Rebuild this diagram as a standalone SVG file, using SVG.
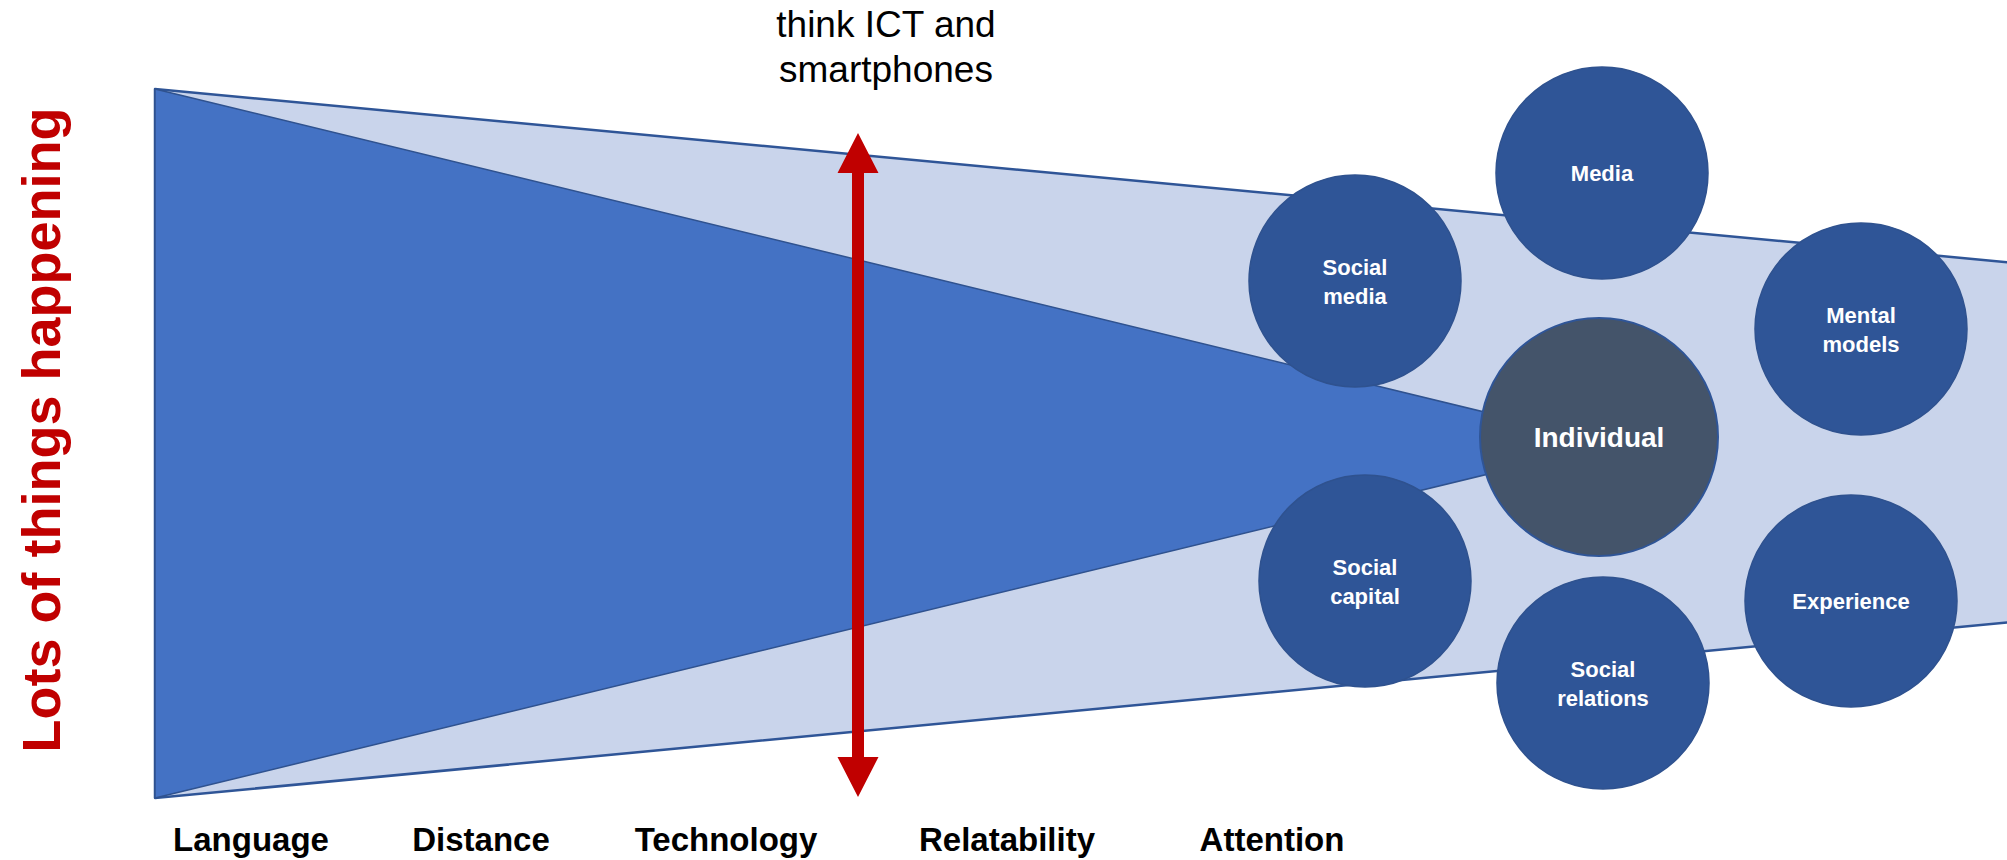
<svg xmlns="http://www.w3.org/2000/svg" width="2007" height="860" viewBox="0 0 2007 860">
  <style>
    .node { fill: #2F5597; stroke: #2F528F; stroke-width: 1.5; }
    .center { fill: #44546A; stroke: #2F5597; stroke-width: 2; }
    .ntext { font-family: "Liberation Sans", Arial, sans-serif; font-weight: bold; font-size: 22px; fill: #FFFFFF; text-anchor: middle; }
    .axis { font-family: "Liberation Sans", Arial, sans-serif; font-weight: bold; font-size: 33px; fill: #000000; text-anchor: middle; }
  </style>
  <rect x="0" y="0" width="2007" height="860" fill="#FFFFFF"/>
  <g id="funnel">
    <polygon points="155,89 2030,264.3 2030,620.4 155,798" fill="#C9D4EB" stroke="#2F5597" stroke-width="2.5" stroke-linejoin="round"/>
    <polygon points="155,89 1614,443.5 155,798" fill="#4472C4" stroke="#2F528F" stroke-width="1.5" stroke-linejoin="round"/>
  </g>
  <g id="connectors">
    <polygon points="858,133 878.5,173 864,173 864,757 878.5,757 858,797 837.5,757 852,757 852,173 837.5,173" fill="#C00000"/>
  </g>
  <text x="886" y="37" font-family="'Liberation Sans', Arial, sans-serif" font-size="37" fill="#000000" text-anchor="middle">think ICT and</text>
  <text x="886" y="82" font-family="'Liberation Sans', Arial, sans-serif" font-size="37" fill="#000000" text-anchor="middle">smartphones</text>
  <text transform="translate(60,430) rotate(-90)" x="0" y="0" font-family="'Liberation Sans', Arial, sans-serif" font-weight="bold" font-size="54" fill="#C00000" text-anchor="middle">Lots of things happening</text>
  <g id="node-social-media">
    <circle class="node" cx="1355" cy="281" r="106"/>
    <text class="ntext" x="1355" y="275">Social</text>
    <text class="ntext" x="1355" y="304">media</text>
  </g>
  <g id="node-media">
    <circle class="node" cx="1602" cy="173" r="106"/>
    <text class="ntext" x="1602" y="181">Media</text>
  </g>
  <g id="node-mental-models">
    <circle class="node" cx="1861" cy="329" r="106"/>
    <text class="ntext" x="1861" y="323">Mental</text>
    <text class="ntext" x="1861" y="352">models</text>
  </g>
  <g id="node-individual">
    <circle class="center" cx="1599" cy="437" r="119"/>
    <text class="ntext" x="1599" y="447" style="font-size:28px">Individual</text>
  </g>
  <g id="node-social-capital">
    <circle class="node" cx="1365" cy="581" r="106"/>
    <text class="ntext" x="1365" y="575">Social</text>
    <text class="ntext" x="1365" y="604">capital</text>
  </g>
  <g id="node-social-relations">
    <circle class="node" cx="1603" cy="683" r="106"/>
    <text class="ntext" x="1603" y="677">Social</text>
    <text class="ntext" x="1603" y="706">relations</text>
  </g>
  <g id="node-experience">
    <circle class="node" cx="1851" cy="601" r="106"/>
    <text class="ntext" x="1851" y="609">Experience</text>
  </g>
  <g id="axis-labels">
    <text class="axis" x="251" y="851">Language</text>
    <text class="axis" x="481" y="851">Distance</text>
    <text class="axis" x="726" y="851">Technology</text>
    <text class="axis" x="1007" y="851">Relatability</text>
    <text class="axis" x="1272" y="851">Attention</text>
  </g>
</svg>
